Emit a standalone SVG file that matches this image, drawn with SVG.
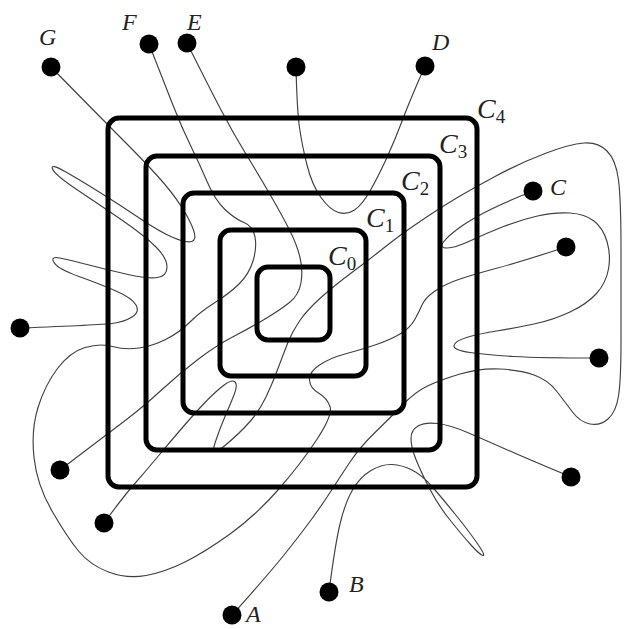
<svg xmlns="http://www.w3.org/2000/svg" width="624" height="629" viewBox="0 0 624 629">
<style>
.sq{fill:none;stroke:#000;stroke-width:5}
.p{fill:none;stroke:#404040;stroke-width:1.15;stroke-linejoin:round;stroke-linecap:round}
.dot{fill:#000}
.lbl{font-family:"Liberation Serif",serif;font-style:italic;fill:#222}
.cl{font-size:28px}
.sub{font-size:19px;font-style:normal}
.pl{font-size:24px}
</style>
<rect width="624" height="629" fill="#fff"/>
<g id="connectors">
<path class="p" d="M51,67 Q100,117 121.5,138.5 Q143,160 157.5,176 Q172,192 181,206 Q190,220 193.5,230 Q197,240 191.5,241.5 Q186,243 173,237.5 Q160,232 140,218.5 Q120,205 100,192.5 Q80,180 65,171.5 Q50,163 52.5,169 Q55,175 77.5,190 Q100,205 122.5,220.5 Q145,236 156,247 Q167,258 167,267 Q167,276 157.5,277.5 Q148,279 128,274.5 Q108,270 89,265 Q70,260 60,258 Q50,256 54,262.5 Q58,269 79,276.5 Q100,284 116,291 Q132,298 136,305 Q140,312 132,317 Q124,322 112,323.5 Q100,325 20,328"/>
<path class="p" d="M149,44 Q165,85 173.5,106.5 Q182,128 191,146.5 Q200,165 207.5,182.5 Q215,200 225,209.5 Q235,219 244,222.5 Q253,226 255,237 Q257,248 253,261 Q249,274 239.5,283.5 Q230,293 215,302.5 Q200,312 190,322 Q180,332 166.5,339 Q153,346 139,348 Q125,350 112.5,346.5 Q100,343 85,347.5 Q70,352 57.5,368.5 Q45,385 38,407.5 Q31,430 34,457.5 Q37,485 52,511 Q67,537 78.5,551 Q90,565 108.5,572 Q127,579 146,575.5 Q165,572 185,562 Q205,552 230,534 Q255,516 277.5,490.5 Q300,465 316.5,440 Q333,415 330,406.5 Q327,398 318.5,393 Q310,388 309.5,380 Q309,372 319.5,365 Q330,358 345,354 Q360,350 375,345 Q390,340 400,334 Q410,328 414.5,320 Q419,312 422,305 Q425,298 435,291 Q445,284 460,279 Q475,274 497.5,268 Q520,262 566,247"/>
<path class="p" d="M296,67 Q297,110 299.5,127.5 Q302,145 307,165 Q312,185 321,197.5 Q330,210 338.5,212.5 Q347,215 354.5,210 Q362,205 370,191 Q378,177 386.5,158.5 Q395,140 402.5,120 Q410,100 425,66"/>
<path class="p" d="M533,191 Q503,203 486.5,211.5 Q470,220 459,228 Q448,236 443.5,242 Q439,248 447,248 Q455,248 471,240.5 Q487,233 503.5,226.5 Q520,220 537.5,216 Q555,212 570,213 Q585,214 594,221 Q603,228 607,241.5 Q611,255 608.5,269 Q606,283 596.5,293.5 Q587,304 570,312 Q553,320 534,324 Q515,328 496.5,331 Q478,334 466.5,337.5 Q455,341 454,345.5 Q453,350 470,352.5 Q487,355 513.5,356.5 Q540,358 599,358"/>
<path class="p" d="M329,592 Q335,545 340,524 Q345,503 352.5,490 Q360,477 371,470.5 Q382,464 392,464.5 Q402,465 412,470 Q422,475 432,486.5 Q442,498 455,514 Q468,530 477,543 Q486,556 483,555.5 Q480,555 471,545 Q462,535 450,520 Q438,505 429.5,488.5 Q421,472 416,459.5 Q411,447 411,438.5 Q411,430 418,426 Q425,422 437.5,423.5 Q450,425 467.5,432.5 Q485,440 507.5,450 Q530,460 571,477"/>
<path class="p" d="M232,615 Q268,575 284,555 Q300,535 311,520 Q322,505 331,491 Q340,477 350,462 Q360,447 375,432.5 Q390,418 402.5,405 Q415,392 427.5,386 Q440,380 460,374 Q480,368 500,369 Q520,370 534,375 Q548,380 556.5,391 Q565,402 572.5,412 Q580,422 590,424 Q600,426 608,419 Q616,412 618.5,396 Q621,380 621,340 Q621,300 621,250 Q621,200 618.5,180 Q616,160 607,151 Q598,142 584,143 Q570,144 545,153.5 Q520,163 495,176.5 Q470,190 455,199 Q440,208 420,221.5 Q400,235 385,247 Q370,259 352.5,272 Q335,285 321,297.5 Q307,310 299.5,321 Q292,332 287.5,343.5 Q283,355 278,368.5 Q273,382 266.5,396 Q260,410 250,421.5 Q240,433 225,445.5 Q210,458 215,443 Q220,428 225,416.5 Q230,405 234,395 Q238,385 235,382 Q232,379 223.5,385.5 Q215,392 205,402.5 Q195,413 182.5,427.5 Q170,442 157.5,457 Q145,472 134,484.5 Q123,497 104,523"/>
<path class="p" d="M187,43 Q207,83 220,108 Q233,133 246.5,155 Q260,177 271.5,197 Q283,217 290,231 Q297,245 300,257.5 Q303,270 301,282.5 Q299,295 289.5,302.5 Q280,310 265,319 Q250,328 233.5,336.5 Q217,345 198.5,359 Q180,373 161.5,390 Q143,407 126.5,419.5 Q110,432 60,470"/>
</g>
<g id="C4"><rect class="sq" x="108" y="118" width="369" height="369" rx="11"/><text class="lbl cl" x="477" y="118">C<tspan class="sub" dy="5">4</tspan></text></g>
<g id="C3"><rect class="sq" x="146" y="156" width="294" height="294" rx="11"/><text class="lbl cl" x="439" y="153">C<tspan class="sub" dy="5">3</tspan></text></g>
<g id="C2"><rect class="sq" x="183" y="193" width="221" height="220" rx="11"/><text class="lbl cl" x="401" y="190">C<tspan class="sub" dy="5">2</tspan></text></g>
<g id="C1"><rect class="sq" x="220" y="230" width="146" height="146" rx="11"/><text class="lbl cl" x="366" y="227">C<tspan class="sub" dy="5">1</tspan></text></g>
<g id="C0"><rect class="sq" x="257" y="267" width="73" height="73" rx="11"/><text class="lbl cl" x="328" y="265">C<tspan class="sub" dy="5">0</tspan></text></g>
<g id="G"><circle class="dot" cx="51" cy="67" r="9.5"/><text class="lbl pl" x="39" y="45">G</text></g>
<g id="F"><circle class="dot" cx="149" cy="44" r="9.5"/><text class="lbl pl" x="122" y="30">F</text></g>
<g id="E"><circle class="dot" cx="187" cy="43" r="9.5"/><text class="lbl pl" x="187" y="30">E</text></g>
<g id="T"><circle class="dot" cx="296" cy="67" r="9.5"/></g>
<g id="D"><circle class="dot" cx="425" cy="66" r="9.5"/><text class="lbl pl" x="432" y="50">D</text></g>
<g id="C"><circle class="dot" cx="533" cy="191" r="9.5"/><text class="lbl pl" x="550" y="195">C</text></g>
<g id="R1"><circle class="dot" cx="566" cy="247" r="9.5"/></g>
<g id="R2"><circle class="dot" cx="599" cy="358" r="9.5"/></g>
<g id="R3"><circle class="dot" cx="571" cy="477" r="9.5"/></g>
<g id="B"><circle class="dot" cx="329" cy="592" r="9.5"/><text class="lbl pl" x="349" y="592">B</text></g>
<g id="A"><circle class="dot" cx="232" cy="615" r="9.5"/><text class="lbl pl" x="246" y="622">A</text></g>
<g id="L1"><circle class="dot" cx="104" cy="523" r="9.5"/></g>
<g id="L2"><circle class="dot" cx="60" cy="470" r="9.5"/></g>
<g id="L0"><circle class="dot" cx="20" cy="328" r="9.5"/></g>
</svg>
